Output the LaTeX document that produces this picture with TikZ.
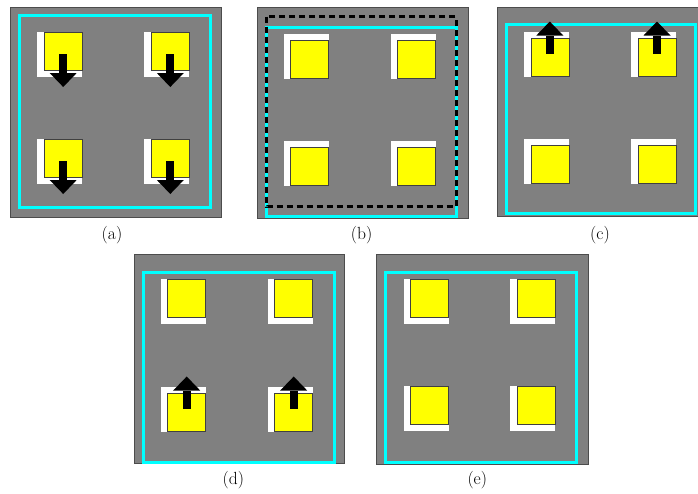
\documentclass[tikz,border=0pt]{standalone}
\usetikzlibrary{arrows.meta}
\definecolor{pcyan}{RGB}{0,255,255}
\definecolor{pyellow}{RGB}{255,255,0}
\definecolor{pgray}{RGB}{128,128,128}

\begin{document}
\begin{tikzpicture}[
    x=0.03cm, y=-0.03cm,
    plate/.style={draw=black!70, fill=pgray, line width=0.4pt},
    frame/.style={draw=pcyan, line width=0.09cm},
    dframe/.style={draw=black, line width=0.09cm, dash pattern=on 0.18cm off 0.12cm},
    pad/.style={draw=black!75, fill=pyellow, line width=0.4pt, minimum size=1.14cm, inner sep=0pt},
    shadow/.style={fill=white, minimum size=1.35cm, inner sep=0pt},
    push/.style={line width=0.24cm, -{Triangle[width=0.81cm 0, length=0.42cm 0, line width=0pt]}},
    lbl/.style={font=\fontsize{15}{17}\selectfont, inner sep=1pt}
]
\useasboundingbox (0,0) rectangle (698,493);
% (a) all pads pushed down
\draw[plate] (10.7,7.3) rectangle (221,217);
\draw[frame] (19.3,15.7) rectangle (210,207);
\foreach \n/\x/\y in {1/63.2/51, 2/170.3/51, 3/63.2/158, 4/170.3/158} {
  \node[shadow] (a\n w) at (\x-3.5,\y+3.5) {};
  \node[pad]    (a\n)   at (\x,\y) {};
  \draw[push] (a\n.center) ++(0,3) -- ++(0,33);
}
\node[lbl] (la) at (112,235) {(a)};
% (b) reference and shifted frame
\draw[plate] (257.3,7.3) rectangle (468.3,218.3);
\draw[frame] (266.7,27.7) rectangle (456.7,216.7);
\draw[dframe] (266.7,16.7) rectangle (456,206.7);
\foreach \n/\x/\y in {1/309.5/59.5, 2/416.7/59.5, 3/309.5/166.7, 4/416.7/166.7} {
  \node[shadow] (b\n w) at (\x-3.5,\y-3.5) {};
  \node[pad]    (b\n)   at (\x,\y) {};
}
\node[lbl] (lb) at (361.7,235) {(b)};
% (c) top row pushed up
\draw[plate] (497.3,7.3) rectangle (700,216);
\draw[frame] (506,24) rectangle (695,213.3);
\foreach \n/\x/\y in {1/549.8/57.5, 2/657/57.5, 3/549.8/164.5, 4/657/164.5} {
  \node[shadow] (c\n w) at (\x-3.5,\y-3.5) {};
  \node[pad]    (c\n)   at (\x,\y) {};
}
\draw[push] (c1.center) ++(0,-4) -- ++(0,-32);
\draw[push] (c2.center) ++(0,-4) -- ++(0,-32);
\node[lbl] (lc) at (600,235) {(c)};
% (d) bottom row pushed up
\draw[plate] (134,254) rectangle (344.3,463.7);
\draw[frame] (143.3,272.3) rectangle (334,462);
\foreach \n/\x/\y/\s in {1/186.7/298/1, 2/293.7/298/1, 3/186.7/412.5/-1, 4/293.7/412.5/-1} {
  \node[shadow] (d\n w) at (\x-3.5,\y+3.5*\s) {};
  \node[pad]    (d\n)   at (\x,\y) {};
}
\draw[push] (d3.center) ++(0,-4) -- ++(0,-32);
\draw[push] (d4.center) ++(0,-4) -- ++(0,-32);
\node[lbl] (ld) at (233.3,480) {(d)};
% (e) settled
\draw[plate] (376.7,254) rectangle (588.3,464);
\draw[frame] (385.7,272.7) rectangle (576.7,462.3);
\foreach \n/\x/\y in {1/429.5/298, 2/536.3/298, 3/429.5/405, 4/536.3/405} {
  \node[shadow] (e\n w) at (\x-3.5,\y+3.5) {};
  \node[pad]    (e\n)   at (\x,\y) {};
}
\node[lbl] (le) at (477.3,480) {(e)};
\end{tikzpicture}
\end{document}
